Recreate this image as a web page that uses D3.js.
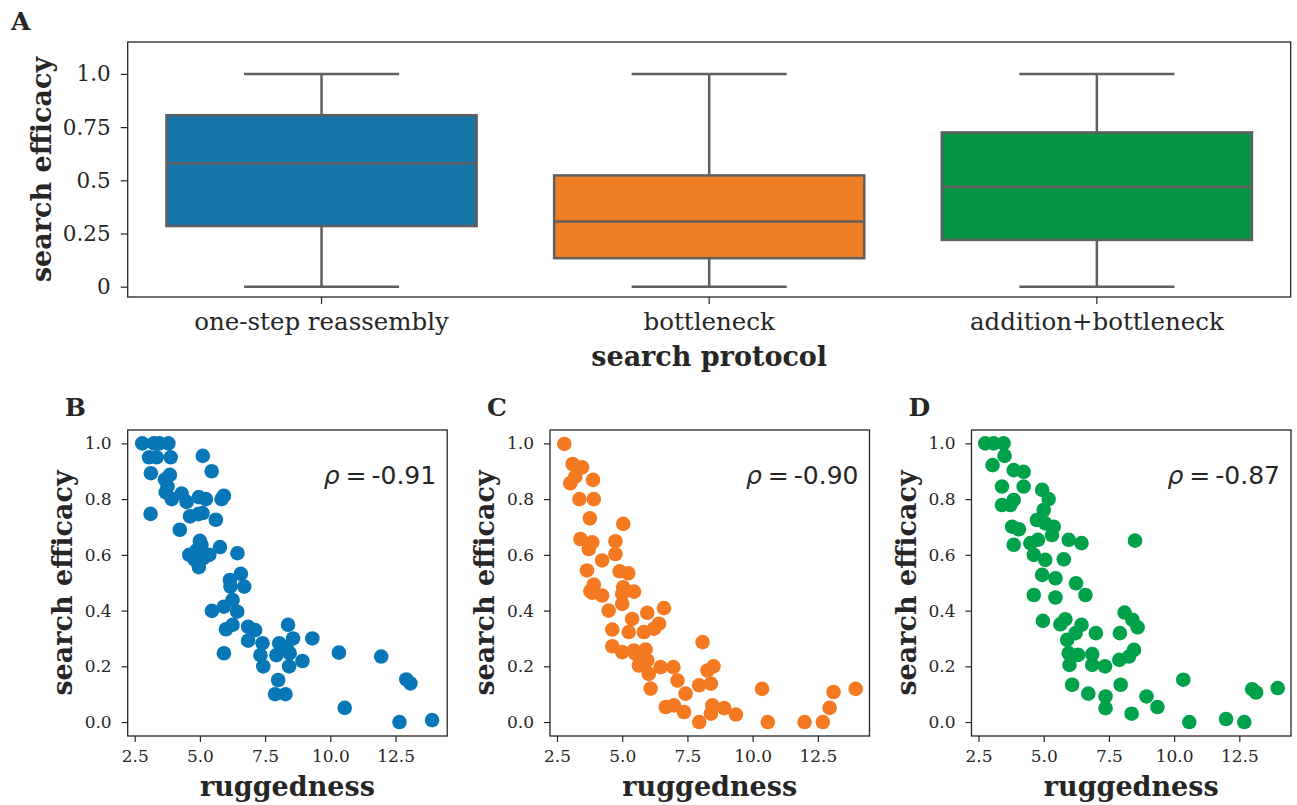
<!DOCTYPE html>
<html>
<head>
<meta charset="utf-8">
<script src="https://cdn.jsdelivr.net/npm/d3@7"></script>
<style>
  body { margin: 0; background: #ffffff; }
  svg text { fill: #262626; }
</style>
</head>
<body>
<div id="graph-holder"></div>
<script>
// box plot summary per search protocol (panel A)
var protocols = ["one-step reassembly", "bottleneck", "addition+bottleneck"];
var boxQ1 = [0.285, 0.134, 0.22];
var boxMedian = [0.58, 0.306, 0.47];
var boxQ3 = [0.806, 0.523, 0.725];
var whiskerLow = [0, 0, 0];
var whiskerHigh = [1, 1, 1];
var boxTicks = [0, 0.25, 0.5, 0.75, 1.0];
var boxTickLabels = ["0", "0.25", "0.5", "0.75", "1.0"];

// ruggedness vs search efficacy, [ruggedness, efficacy]
var onestepPoints = [
  [2.79, 1.0], [3.24, 1.0], [3.45, 1.0], [3.79, 1.0],
  [3.05, 0.95], [3.34, 0.95], [3.88, 0.95], [5.11, 0.955],
  [3.12, 0.893], [5.45, 0.9], [3.85, 0.887], [3.66, 0.87], [3.76, 0.845], [3.69, 0.824],
  [3.92, 0.8], [4.3, 0.82], [4.49, 0.79], [4.96, 0.807], [5.23, 0.8], [5.83, 0.8], [5.92, 0.812],
  [3.11, 0.747], [4.62, 0.738], [4.94, 0.746], [5.1, 0.75], [5.61, 0.726], [4.23, 0.69],
  [5.77, 0.628], [6.44, 0.606], [5.0, 0.65], [4.59, 0.6], [4.87, 0.616], [5.06, 0.636],
  [5.0, 0.6], [5.36, 0.6], [4.81, 0.582], [4.96, 0.556], [5.13, 0.588],
  [6.15, 0.51], [6.17, 0.486], [6.57, 0.532], [6.7, 0.486],
  [5.46, 0.399], [5.92, 0.414], [6.25, 0.438], [6.43, 0.396], [6.0, 0.333], [6.25, 0.349], [5.92, 0.247],
  [6.85, 0.342], [7.12, 0.33], [6.85, 0.292], [7.4, 0.283], [7.32, 0.24], [7.43, 0.2],
  [8.04, 0.283], [7.93, 0.24], [8.38, 0.349], [8.57, 0.3], [8.32, 0.27], [8.44, 0.247],
  [8.42, 0.2], [8.93, 0.219], [9.31, 0.3], [8.0, 0.151], [7.88, 0.1], [8.28, 0.1],
  [10.33, 0.249], [10.55, 0.051], [11.95, 0.235], [12.91, 0.153], [13.07, 0.139],
  [12.65, 0.0], [13.9, 0.007]
];
var bottleneckPoints = [
  [2.78, 0.998], [3.1, 0.926], [3.46, 0.914], [3.01, 0.857], [3.88, 0.869], [3.2, 0.88],
  [3.36, 0.8], [3.91, 0.8], [3.76, 0.731], [5.04, 0.711], [3.4, 0.657], [3.85, 0.645],
  [3.72, 0.621], [4.74, 0.649], [4.74, 0.603], [4.23, 0.58], [3.65, 0.544], [4.9, 0.541],
  [5.23, 0.534], [3.85, 0.464], [4.23, 0.454], [3.91, 0.493], [3.78, 0.47], [5.04, 0.484],
  [5.0, 0.46], [5.45, 0.468], [5.0, 0.424], [4.48, 0.4], [6.6, 0.409], [5.96, 0.392],
  [5.38, 0.37], [6.41, 0.353], [4.62, 0.332], [5.25, 0.323], [5.83, 0.323], [6.22, 0.335],
  [8.08, 0.287], [4.62, 0.272], [5.0, 0.251], [5.51, 0.245], [5.64, 0.203], [5.96, 0.221],
  [6.47, 0.197], [6.96, 0.197], [6.02, 0.173], [7.12, 0.149], [6.09, 0.12], [8.5, 0.2],
  [8.27, 0.185], [7.95, 0.132], [8.4, 0.138], [7.43, 0.102], [6.67, 0.054], [6.98, 0.06],
  [7.37, 0.036], [7.95, 0.0], [8.4, 0.03], [8.46, 0.06], [8.91, 0.05], [9.36, 0.027],
  [10.36, 0.119], [10.58, 0.0], [11.99, 0.0], [12.69, 0.0], [12.95, 0.051], [13.1, 0.108],
  [13.95, 0.119], [5.9, 0.26], [5.45, 0.257]
];
var additionPoints = [
  [2.76, 1.0], [3.08, 1.0], [3.46, 1.0], [3.5, 0.955], [3.04, 0.922], [3.85, 0.904],
  [4.23, 0.898], [3.4, 0.845], [4.23, 0.845], [4.94, 0.833], [5.19, 0.8], [3.4, 0.779],
  [3.72, 0.779], [3.85, 0.797], [5.0, 0.761], [4.74, 0.725], [5.06, 0.713], [5.38, 0.701],
  [3.79, 0.701], [4.05, 0.692], [5.32, 0.671], [5.96, 0.654], [6.45, 0.642], [8.5, 0.651],
  [3.85, 0.636], [4.49, 0.642], [4.78, 0.654], [4.62, 0.6], [5.06, 0.582], [5.77, 0.584],
  [4.94, 0.528], [5.45, 0.516], [6.24, 0.498], [6.6, 0.456], [4.62, 0.456], [5.45, 0.447],
  [4.97, 0.363], [5.64, 0.351], [5.83, 0.369], [6.45, 0.349], [6.22, 0.319], [7.0, 0.319],
  [5.9, 0.295], [7.92, 0.319], [8.1, 0.393], [8.4, 0.367], [8.6, 0.34], [5.96, 0.247],
  [6.32, 0.241], [5.99, 0.205], [6.86, 0.244], [6.86, 0.205], [7.35, 0.2], [7.9, 0.223],
  [8.27, 0.235], [8.46, 0.259], [6.09, 0.134], [7.95, 0.134], [6.71, 0.102], [7.37, 0.092],
  [7.37, 0.05], [8.37, 0.03], [8.94, 0.092], [9.36, 0.054], [10.35, 0.152], [10.58, 0.0],
  [11.99, 0.011], [12.69, 0.0], [12.99, 0.118], [13.14, 0.106], [13.97, 0.122]
];
var correlations = ["-0.91", "-0.90", "-0.87"];
var panelLetters = ["B", "C", "D"];
var scatterYTicks = [0, 0.2, 0.4, 0.6, 0.8, 1.0];
var scatterXTicks = [2.5, 5.0, 7.5, 10.0, 12.5];

// colours
var boxColors = ["#1375a8", "#ee7f27", "#069547"];
var dotColors = ["#0777b8", "#f47920", "#00a14b"];
var lineGrey = "#5f5f5f";
var spineColor = "#262626";
var serif = "'DejaVu Serif', serif";

var svg = d3
  .select("#graph-holder")
  .append("svg")
  .attr("width", 1297)
  .attr("height", 805);

/**
 * Panel A - box plots of search efficacy per protocol
 */
function drawBoxPanel() {
  var left = 127.7, right = 1290.7, top = 42, bottom = 297;
  var x = d3.scaleBand().domain(protocols).range([left, right]).paddingInner(0).paddingOuter(0);
  var y = d3.scaleLinear().domain([-0.0484, 1.15]).range([bottom, top]);
  var g = svg.append("g");
  var bw = x.bandwidth() * 0.8;
  var capW = bw * 0.5;

  protocols.forEach(function (p, i) {
    var cx = x(p) + x.bandwidth() / 2;
    // whiskers
    g.append("line")
      .attr("x1", cx).attr("x2", cx)
      .attr("y1", y(boxQ3[i])).attr("y2", y(whiskerHigh[i]))
      .attr("stroke", lineGrey).attr("stroke-width", 2.5);
    g.append("line")
      .attr("x1", cx).attr("x2", cx)
      .attr("y1", y(boxQ1[i])).attr("y2", y(whiskerLow[i]))
      .attr("stroke", lineGrey).attr("stroke-width", 2.5);
    [whiskerHigh[i], whiskerLow[i]].forEach(function (v) {
      g.append("line")
        .attr("x1", cx - capW / 2).attr("x2", cx + capW / 2)
        .attr("y1", y(v)).attr("y2", y(v))
        .attr("stroke", lineGrey).attr("stroke-width", 2.5);
    });
    g.append("rect")
      .attr("x", cx - bw / 2)
      .attr("y", y(boxQ3[i]))
      .attr("width", bw)
      .attr("height", y(boxQ1[i]) - y(boxQ3[i]))
      .attr("fill", boxColors[i])
      .attr("stroke", lineGrey)
      .attr("stroke-width", 2.5);
    g.append("line")
      .attr("x1", cx - bw / 2).attr("x2", cx + bw / 2)
      .attr("y1", y(boxMedian[i])).attr("y2", y(boxMedian[i]))
      .attr("stroke", lineGrey).attr("stroke-width", 2.5);
  });

  // axes
  var xAxis = g.append("g")
    .attr("transform", "translate(0," + bottom + ")")
    .call(d3.axisBottom(x).tickSize(7).tickPadding(9));
  xAxis.selectAll("text").style("font-family", serif).style("font-size", "24.5px");
  var yAxis = g.append("g")
    .attr("transform", "translate(" + left + ",0)")
    .call(d3.axisLeft(y).tickValues(boxTicks).tickFormat(function (d, i) { return boxTickLabels[i]; }).tickSize(7).tickPadding(10));
  yAxis.selectAll("text").style("font-family", serif).style("font-size", "21.5px");
  [xAxis, yAxis].forEach(function (a) {
    a.select(".domain").remove();
    a.selectAll("line").attr("stroke", spineColor).attr("stroke-width", 1.2);
  });

  g.append("rect")
    .attr("x", left).attr("y", top)
    .attr("width", right - left).attr("height", bottom - top)
    .attr("fill", "none").attr("stroke", spineColor).attr("stroke-width", 1.3);

  g.append("text")
    .attr("transform", "translate(51," + (top + bottom) / 2 + ") rotate(-90)")
    .attr("text-anchor", "middle")
    .style("font-family", serif).style("font-weight", "bold").style("font-size", "27px")
    .text("search efficacy");
  g.append("text")
    .attr("x", (left + right) / 2).attr("y", 366)
    .attr("text-anchor", "middle")
    .style("font-family", serif).style("font-weight", "bold").style("font-size", "27px")
    .text("search protocol");
  g.append("text")
    .attr("x", 11).attr("y", 30)
    .style("font-family", serif).style("font-weight", "bold").style("font-size", "25px")
    .text("A");
}

/**
 * Panels B-D - scatter of ruggedness vs efficacy
 */
function drawScatter(points, left, idx) {
  var width = 319.5, top = 430, bottom = 736;
  var x = d3.scaleLinear().domain([2.232, 14.48]).range([left, left + width]);
  var y = d3.scaleLinear().domain([-0.05, 1.048]).range([bottom, top]);
  var g = svg.append("g");

  g.selectAll("circle")
    .data(points)
    .enter()
    .append("circle")
    .attr("cx", function (d) { return x(d[0]); })
    .attr("cy", function (d) { return y(d[1]); })
    .attr("r", 7.3)
    .attr("fill", dotColors[idx]);

  var xAxis = g.append("g")
    .attr("transform", "translate(0," + bottom + ")")
    .call(d3.axisBottom(x).tickValues(scatterXTicks).tickFormat(d3.format(".1f")).tickSize(6).tickPadding(8));
  var yAxis = g.append("g")
    .attr("transform", "translate(" + left + ",0)")
    .call(d3.axisLeft(y).tickValues(scatterYTicks).tickFormat(d3.format(".1f")).tickSize(6).tickPadding(10));
  [xAxis, yAxis].forEach(function (a) {
    a.select(".domain").remove();
    a.selectAll("line").attr("stroke", spineColor).attr("stroke-width", 1.2);
    a.selectAll("text").style("font-family", serif).style("font-size", "17px");
  });

  g.append("rect")
    .attr("x", left).attr("y", top)
    .attr("width", width).attr("height", bottom - top)
    .attr("fill", "none").attr("stroke", spineColor).attr("stroke-width", 1.3);

  // rho annotation, spaced like mathtext
  var t = g.append("text")
    .attr("x", left + width - 11).attr("y", 484)
    .attr("text-anchor", "end")
    .style("font-family", "'DejaVu Sans', sans-serif").style("font-size", "25px");
  t.append("tspan").style("font-style", "italic").text("\u03C1");
  t.append("tspan").attr("dx", 6).text("=");
  t.append("tspan").attr("dx", 5).text(correlations[idx]);

  g.append("text")
    .attr("transform", "translate(" + (left - 56) + "," + (top + bottom) / 2 + ") rotate(-90)")
    .attr("text-anchor", "middle")
    .style("font-family", serif).style("font-weight", "bold").style("font-size", "27px")
    .text("search efficacy");
  g.append("text")
    .attr("x", left + width / 2).attr("y", 796)
    .attr("text-anchor", "middle")
    .style("font-family", serif).style("font-weight", "bold").style("font-size", "27px")
    .text("ruggedness");
  g.append("text")
    .attr("x", left - 63).attr("y", 416)
    .style("font-family", serif).style("font-weight", "bold").style("font-size", "25px")
    .text(panelLetters[idx]);
}

drawBoxPanel();
drawScatter(onestepPoints, 127.7, 0);
drawScatter(bottleneckPoints, 550, 1);
drawScatter(additionPoints, 971.5, 2);
</script>
</body>
</html>
